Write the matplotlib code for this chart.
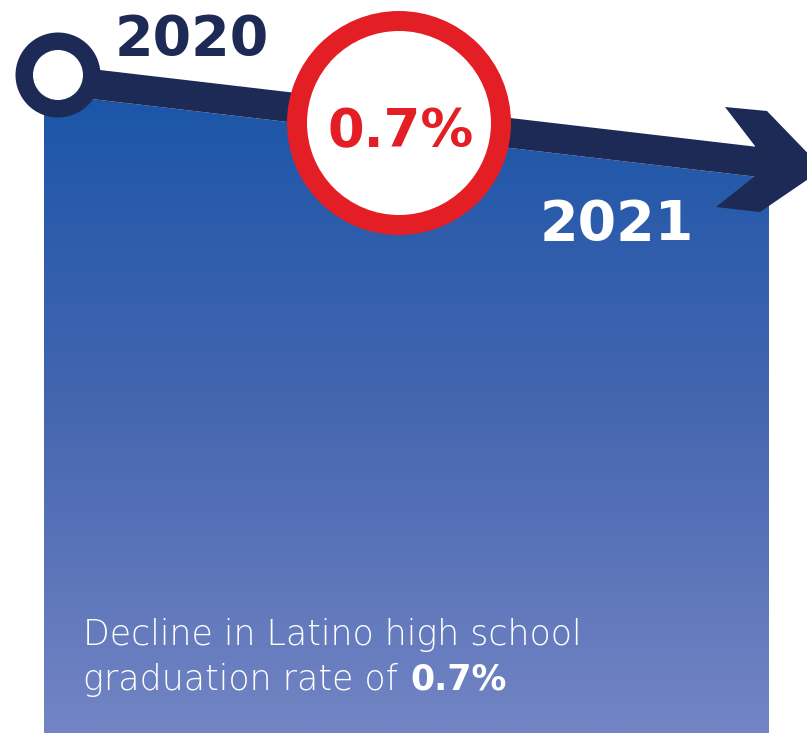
import matplotlib
matplotlib.use("Agg")
import matplotlib.pyplot as plt
import numpy as np
from matplotlib.patches import Polygon, Circle
from matplotlib.colors import LinearSegmentedColormap

# ---- data ----
years = ["2020", "2021"]
decline_pct = 0.7
caption_lines = ["Decline in Latino high school", "graduation rate of "]

NAVY = "#1e2a56"
RED = "#e31e24"
W, H = 807, 733

fig = plt.figure(figsize=(W / 100, H / 100), dpi=100)
ax = fig.add_axes([0, 0, 1, 1])
ax.set_xlim(0, W)
ax.set_ylim(H, 0)
ax.axis("off")

# gradient panel
x0, x1 = 44, 769
slope = 0.117
def line_top(x):
    return 70 + slope * (x - 100)
ytop_l = line_top(x0) + 30
ytop_r = line_top(x1) + 30
cmap = LinearSegmentedColormap.from_list("g", ["#1a55a8", "#4566b0", "#7385c4"])
grad = np.linspace(0, 1, 256).reshape(-1, 1)
im = ax.imshow(grad, cmap=cmap, extent=[x0, x1, H, 85], aspect="auto", zorder=1)
panel = Polygon([(x0, ytop_l), (x1, ytop_r), (x1, H), (x0, H)], closed=True,
                transform=ax.transData, facecolor="none", edgecolor="none")
ax.add_patch(panel)
im.set_clip_path(panel)

# arrow shaft
shaft = Polygon([(58, line_top(58)), (755, line_top(755)),
                 (755, line_top(755) + 30), (58, line_top(58) + 30)],
                closed=True, facecolor=NAVY, edgecolor="none", zorder=2)
ax.add_patch(shaft)
# arrow head (chevron)
head = Polygon([(725, 107), (767, 111), (823, 169), (760, 212), (716, 207),
                (755, 176), (755, 146)], closed=True, facecolor=NAVY,
               edgecolor="none", zorder=2)
ax.add_patch(head)

# start ring
ax.add_patch(Circle((58, 75), 42.5, facecolor=NAVY, edgecolor="none", zorder=3))
ax.add_patch(Circle((58, 75), 25, facecolor="white", edgecolor="none", zorder=4))

# red circle
ax.add_patch(Circle((399, 123), 112, facecolor=RED, edgecolor="none", zorder=3))
ax.add_patch(Circle((399, 123), 92, facecolor="white", edgecolor="none", zorder=4))

bold = dict(family=["DejaVu Sans"], fontweight="bold")
ax.text(192, 55, years[0], color=NAVY, fontsize=40, ha="center", va="baseline", zorder=5, **bold)
ax.text(617, 240, years[1], color="white", fontsize=40, ha="center", va="baseline", zorder=5, **bold)
ax.text(401, 147, f"{decline_pct}%", color=RED, fontsize=38, ha="center", va="baseline", zorder=5, **bold)

light = dict(family=["DejaVu Sans"], fontweight="light")
ax.text(83, 645, caption_lines[0], color="white", fontsize=25, ha="left", va="baseline", zorder=5, **light)
t = ax.text(83, 690, caption_lines[1], color="white", fontsize=25, ha="left", va="baseline", zorder=5, **light)
fig.canvas.draw()
bb = t.get_window_extent()
xe = ax.transData.inverted().transform((bb.x1, bb.y0))[0]
ax.text(xe + 2, 690, f"{decline_pct}%", color="white", fontsize=25, ha="left", va="baseline", zorder=5, **bold)

fig.savefig("out.png", dpi=100)
